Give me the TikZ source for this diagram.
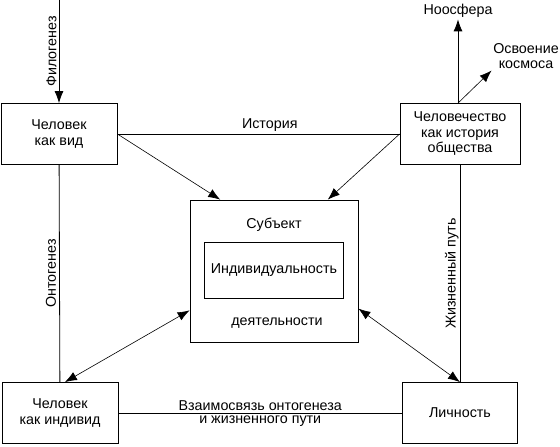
\documentclass[tikz,border=0pt]{standalone}
\usepackage{fontspec}
\setmainfont{Liberation Sans}
\usetikzlibrary{positioning,arrows.meta,calc}
\tikzset{
  stagebox/.style={
    draw=black,
    line width=0.8pt,
    minimum width=116pt,
    minimum height=61pt,
    align=center
  },
  plainlabel/.style={inner sep=1.5pt,align=center},
  arrow/.style={-{Latex[length=12pt,width=9pt]},line width=0.8pt},
  thinarrow/.style={-{Latex[length=12pt,width=9pt]},line width=0.6pt},
  biarrow/.style={{Latex[length=12pt,width=9pt]}-{Latex[length=12pt,width=9pt]},line width=0.6pt},
  link/.style={line width=0.8pt}
}
\begin{document}
\begin{tikzpicture}[x=1pt,y=1pt,font=\fontsize{14.3}{15.5}\selectfont]
    \useasboundingbox (0,0) rectangle (560,-447);
    \node[stagebox] (vid) at (59,-134) {Человек\\как вид};
    \node[stagebox,minimum width=120pt] (obsh) at (460,-134) {Человечество\\как история\\общества};
    \node[stagebox] (indiv) at (60,-413) {Человек\\как индивид};
    \node[stagebox,minimum width=115pt] (lichn) at (460,-413) {Личность};
    \node[draw,line width=0.8pt,minimum width=168pt,minimum height=142pt] (subj) at (274,-271) {};
    \node[draw,line width=0.8pt,minimum width=139pt,minimum height=56pt] (ind) at (274,-270) {Индивидуальность};
    \node[plainlabel] (subjtxt) at (274,-225) {Субъект};
    \node[plainlabel] (deyat) at (277,-323) {деятельности};
    \node[plainlabel] (noos) at (458,-11) {Ноосфера};
    \node[plainlabel] (kosmos) at (526,-56) {Освоение\\космоса};
    \coordinate (phyltop) at (59,0);

    \draw[arrow] (phyltop) -- (vid) node[midway,rotate=90,above,inner sep=2pt] {Филогенез};
    \draw[arrow] (obsh.north -| noos) -- (noos.south);
    \draw[thinarrow] (obsh.north -| noos) -- (kosmos.south west);
    \draw[link] (vid) -- (obsh) node[pos=0.54,above,inner sep=2pt] {История};
    \draw[thinarrow] (vid.east) -- (subj.127);
    \draw[thinarrow] (obsh.west) -- (subj.53);
    \draw[link] (vid) -- (indiv) node[midway,rotate=90,above,inner sep=3pt] {Онтогенез};
    \draw[link] (obsh) -- (lichn) node[midway,rotate=90,above,inner sep=1pt] {Жизненный путь};
    \draw[biarrow] (subj.205) -- (indiv.81);
    \draw[biarrow] (subj.-24) -- (lichn.north);
    \draw[link] (indiv) -- (lichn)
      node[midway,above,inner sep=2pt] {Взаимосвязь онтогенеза}
      node[midway,below,inner sep=2.5pt] {и жизненного пути};
  \end{tikzpicture}
\end{document}
